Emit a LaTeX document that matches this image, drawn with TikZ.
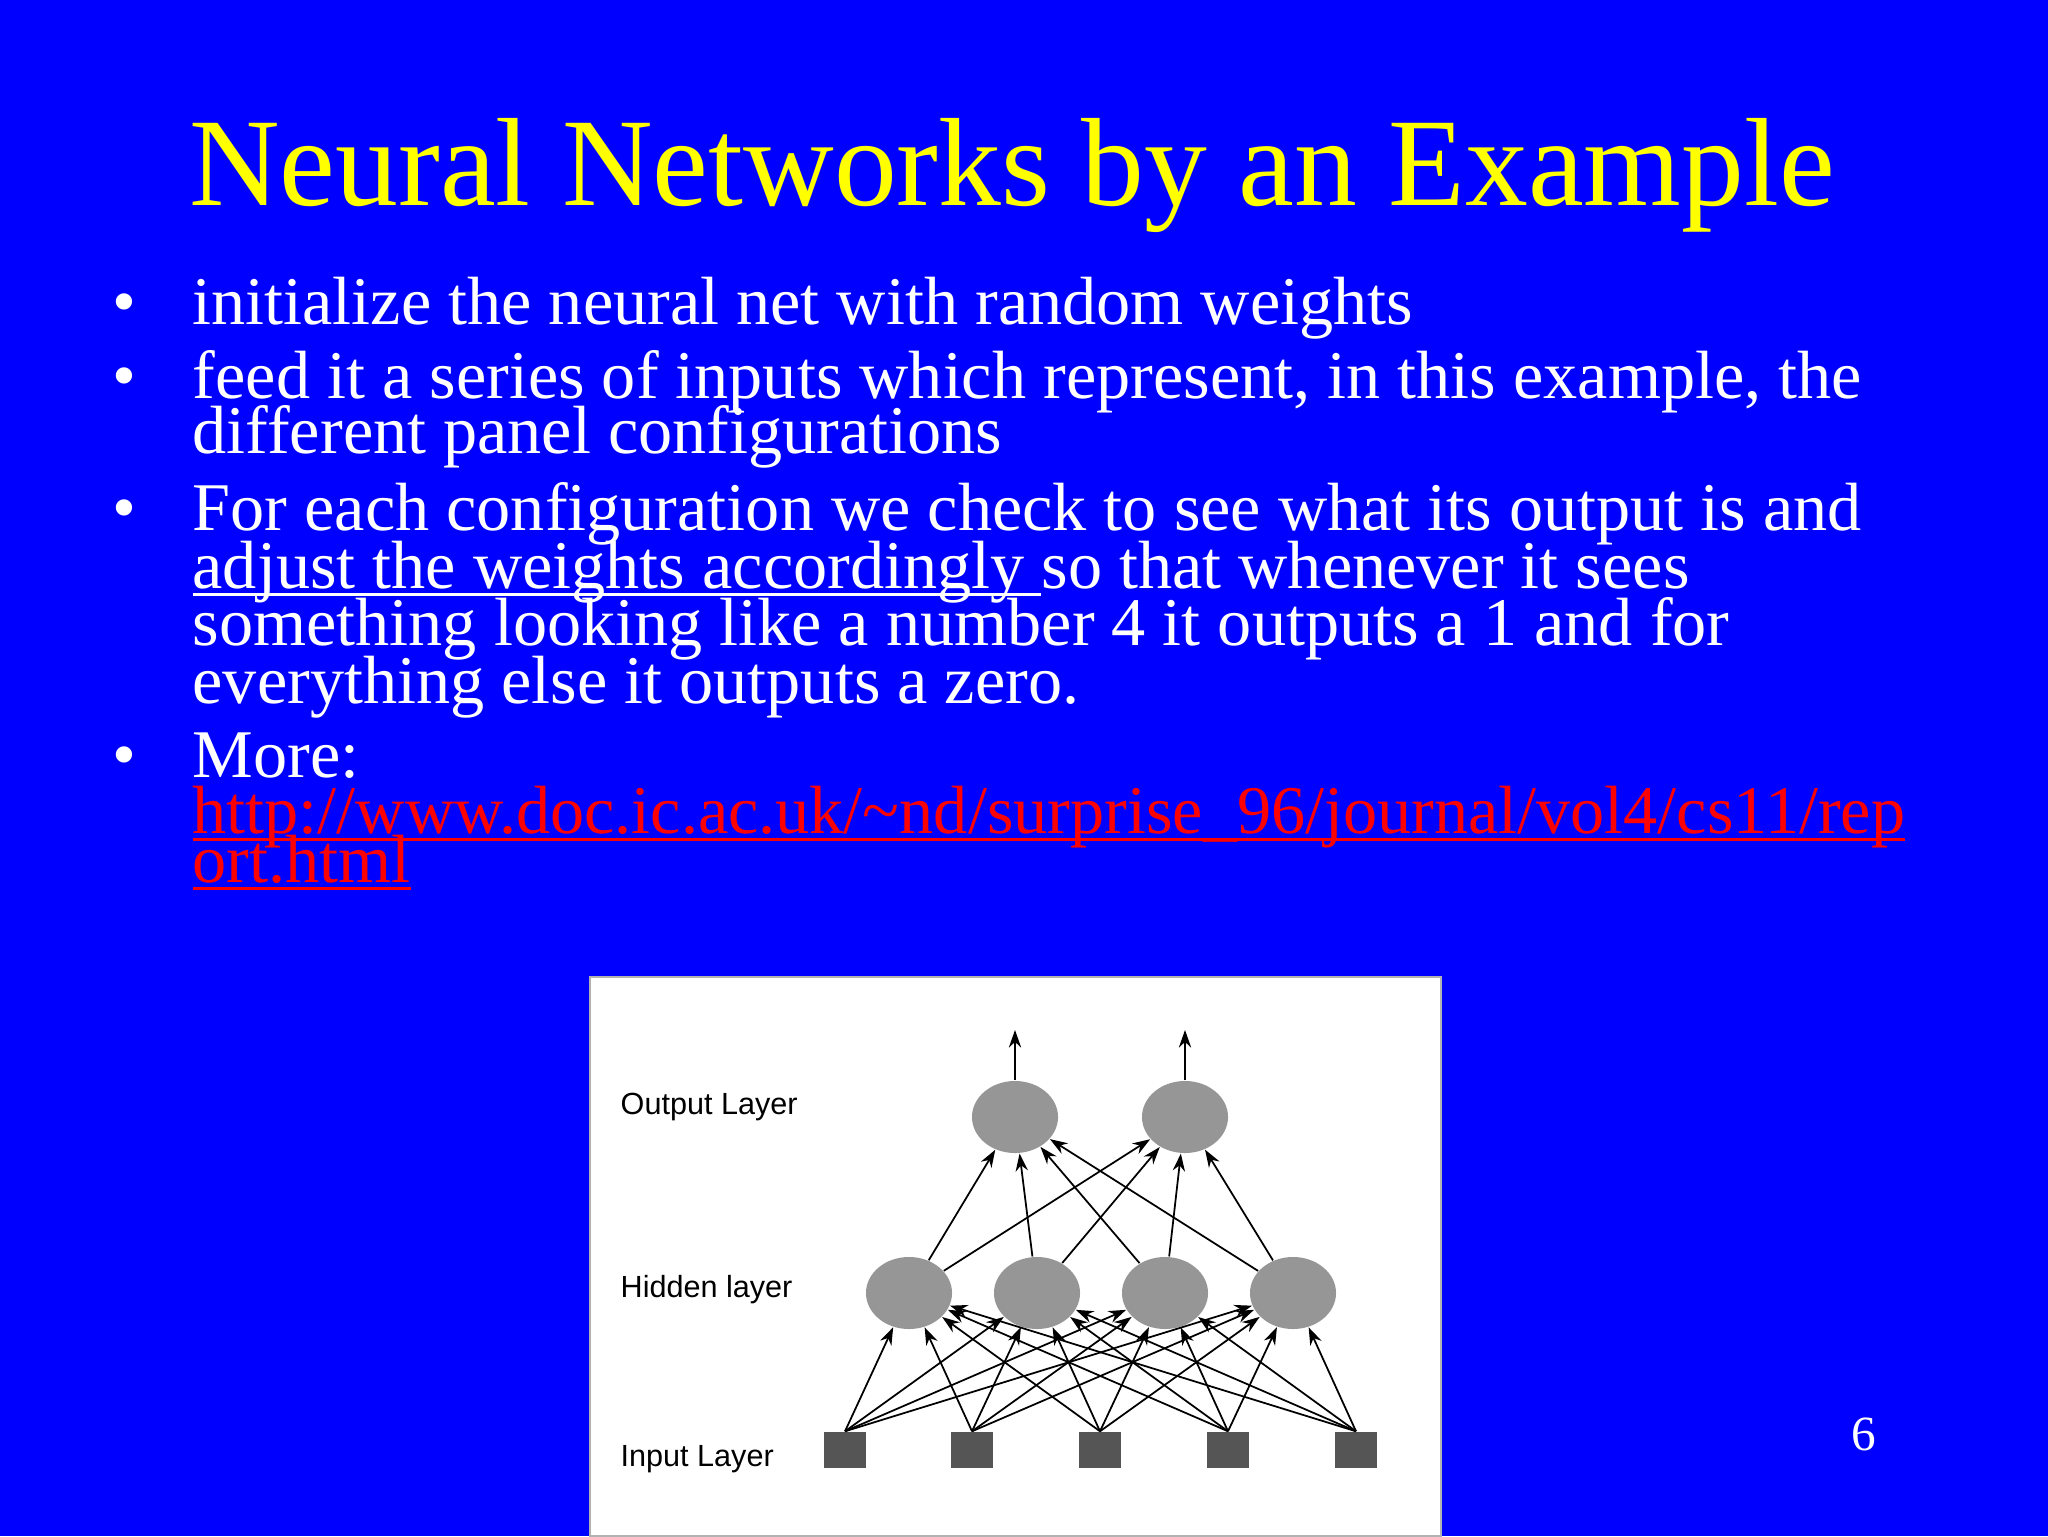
\documentclass[tikz,border=0pt]{standalone}
\usepackage{fontspec}
\setmainfont{Liberation Serif}
\newfontfamily\lsans{Liberation Sans}
\usetikzlibrary{arrows.meta,shapes.geometric}
\definecolor{bg}{RGB}{0,0,255}
\definecolor{ttl}{RGB}{255,255,0}
\definecolor{lnk}{RGB}{255,0,0}
\definecolor{neu}{RGB}{150,150,150}
\definecolor{sq}{RGB}{85,85,85}
\newlength\myulw
\newcommand\myul[1]{\settowidth\myulw{#1}\rlap{\rule[-2.2pt]{\myulw}{0.7pt}}#1}
\tikzset{
 line/.style={anchor=base west,inner sep=0,text=white,font=\fontsize{19.4}{20}\selectfont},
 bul/.style={anchor=base,inner sep=0,text=white,font=\fontsize{19.4}{20}\selectfont},
 neuron/.style={ellipse,fill=neu,minimum width=0.86cm,minimum height=0.72cm,inner sep=0},
 inp/.style={rectangle,fill=sq,minimum width=0.42cm,minimum height=0.36cm,inner sep=0},
 lab/.style={anchor=base west,inner sep=0,font=\lsans\fontsize{8.7}{10}\selectfont},
 con/.style={-{Stealth[length=5pt,width=3.5pt]},line width=0.5pt}
}
\begin{document}
\begin{tikzpicture}[x=0.01cm,y=-0.01cm]
\fill[bg] (0,0) rectangle (2048,1536);
\node[anchor=base,inner sep=0,text=ttl,font=\fontsize{35.7}{36}\selectfont] (title) at (1012,205) {Neural Networks by an Example};
\foreach \y/\n in {324/b1,398/b2,530/b3,777/b4} \node[bul] (\n) at (124,\y) {•};
\node[line] (l1) at (192,324) {initialize the neural net with random weights};
\node[line] (l2) at (192,398) {feed it a series of inputs which represent, in this example, the};
\node[line] (l3) at (192,453) {different panel configurations};
\node[line] (l4) at (192,530) {For each configuration we check to see what its output is and};
\node[line] (l5) at (192,588) {\myul{adjust the weights accordingly }so that whenever it sees};
\node[line] (l6) at (192,645) {something looking like a number 4 it outputs a 1 and for};
\node[line] (l7) at (192,703) {everything else it outputs a zero.};
\node[line] (l8) at (192,777) {More:};
\node[line,text=lnk] (l9) at (192,833) {\myul{http://www.doc.ic.ac.uk/\textasciitilde nd/surprise\_96/journal/vol4/cs11/rep}};
\node[line,text=lnk] (l10) at (192,882) {\myul{ort.html}};
\node[anchor=base,inner sep=0,text=white,font=\fontsize{14}{14}\selectfont] (pg) at (1864,1450) {6};
% panel
\filldraw[fill=white,draw=gray!60] (590,977) rectangle (1441,1536);
\node[lab] (lo) at (620,1114) {Output Layer};
\node[lab] (lh) at (620,1297) {Hidden layer};
\node[lab] (li) at (620,1466) {Input Layer};
\foreach \i/\x in {1/1015,2/1185} {
 \node[neuron] (o\i) at (\x,1117) {};
 \coordinate (t\i) at (\x,1030);
 \draw[con] (o\i) -- (t\i);
}
\foreach \i/\x in {1/909,2/1037,3/1165,4/1293} \node[neuron] (h\i) at (\x,1293) {};
\foreach \i/\x in {1/845,2/972,3/1100,4/1228,5/1356} \node[inp] (i\i) at (\x,1450) {};
\foreach \h in {1,...,4} \foreach \o in {1,2} \draw[con] (h\h) -- (o\o);
\foreach \i in {1,...,5} \foreach \h in {1,...,4} \draw[con] (i\i.north) -- (h\h);
\end{tikzpicture}
\end{document}
